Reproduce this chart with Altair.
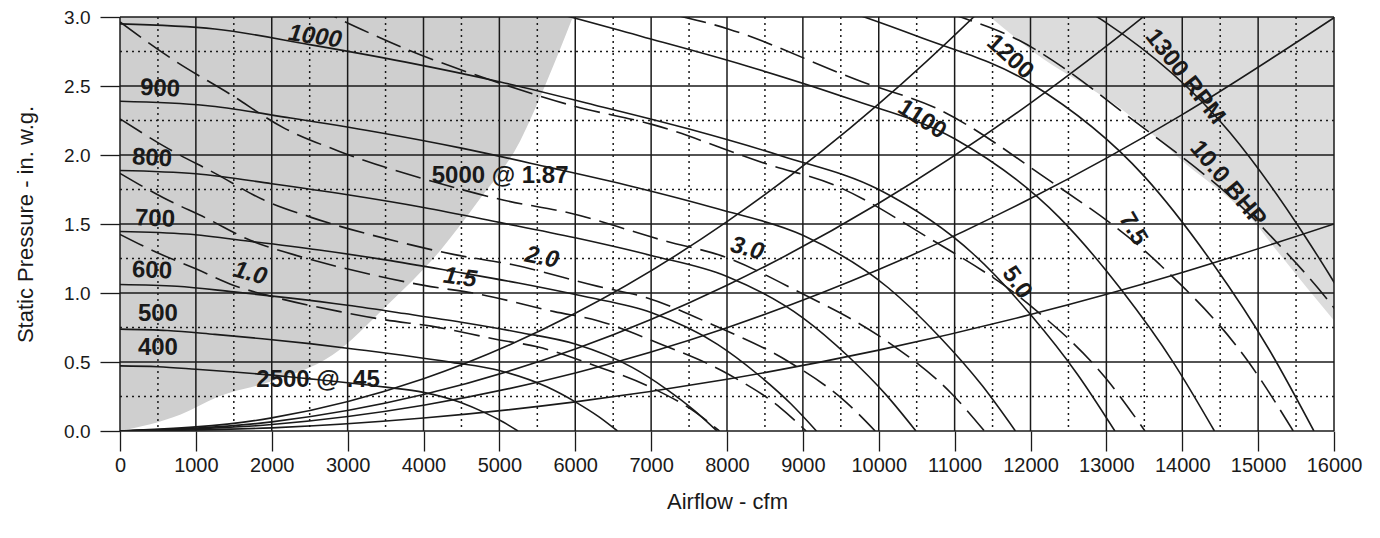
import altair as alt
import pandas as pd

# ---------------- data ----------------
# Fan speed curves (solid), x = cfm, y = in. w.g.
rpm400_x = [0, 500, 1000, 1500, 2000, 2500, 3000, 3500, 4000, 4500, 4800, 5050, 5245]
rpm400_y = [0.472, 0.466, 0.448, 0.428, 0.405, 0.378, 0.35, 0.318, 0.28, 0.205, 0.135, 0.065, 0]
rpm500_x = [0, 625, 1250, 1875, 2500, 3125, 3750, 4375, 5000, 5625, 6000, 6313, 6556]
rpm500_y = [0.738, 0.728, 0.700, 0.669, 0.633, 0.591, 0.547, 0.497, 0.438, 0.320, 0.211, 0.102, 0]
rpm600_x = [0, 750, 1500, 2250, 3000, 3750, 4500, 5250, 6000, 6750, 7200, 7575, 7868]
rpm600_y = [1.062, 1.049, 1.008, 0.963, 0.911, 0.851, 0.788, 0.716, 0.630, 0.461, 0.304, 0.146, 0]
rpm700_x = [0, 875, 1750, 2625, 3500, 4375, 5250, 6125, 7000, 7875, 8400, 8838, 9179]
rpm700_y = [1.446, 1.427, 1.372, 1.311, 1.240, 1.158, 1.072, 0.974, 0.858, 0.628, 0.413, 0.199, 0]
rpm800_x = [0, 1000, 2000, 3000, 4000, 5000, 6000, 7000, 8000, 9000, 9600, 10100, 10490]
rpm800_y = [1.888, 1.864, 1.792, 1.712, 1.620, 1.512, 1.400, 1.272, 1.120, 0.820, 0.540, 0.260, 0]
rpm900_x = [0, 1125, 2250, 3375, 4500, 5625, 6750, 7875, 9000, 10125, 10800, 11363, 11801]
rpm900_y = [2.390, 2.359, 2.268, 2.167, 2.050, 1.914, 1.772, 1.610, 1.418, 1.038, 0.683, 0.329, 0]
rpm1000_x = [0, 1250, 2500, 3750, 5000, 6250, 7500, 8750, 10000, 11250, 12000, 12625, 13112]
rpm1000_y = [2.950, 2.913, 2.800, 2.675, 2.531, 2.363, 2.188, 1.988, 1.750, 1.281, 0.844, 0.406, 0]
rpm1100_x = [0, 1375, 2750, 4125, 5500, 6875, 8250, 9625, 11000, 12375, 13200, 13888, 14424]
rpm1100_y = [3.570, 3.524, 3.388, 3.237, 3.063, 2.859, 2.647, 2.405, 2.118, 1.550, 1.021, 0.492, 0]
rpm1200_x = [0, 1500, 3000, 4500, 6000, 7500, 9000, 10500, 12000, 13500, 14400, 15150, 15735]
rpm1200_y = [4.248, 4.194, 4.032, 3.852, 3.645, 3.402, 3.150, 2.862, 2.520, 1.845, 1.215, 0.585, 0]
rpm1300_x = [0, 1625, 3250, 4875, 6500, 8125, 9750, 11375, 13000, 14625, 15600, 16413, 17046]
rpm1300_y = [4.986, 4.922, 4.732, 4.521, 4.278, 3.993, 3.697, 3.359, 2.958, 2.165, 1.426, 0.687, 0]

# Brake horsepower curves (dashed)
bhp10_x = [0, 500, 1000, 1500, 2000, 2900, 3500, 4100, 5000, 5500, 6200, 7000, 7600, 7900]
bhp10_y = [1.425, 1.29, 1.175, 1.055, 0.975, 0.865, 0.805, 0.76, 0.66, 0.61, 0.485, 0.315, 0.13, 0]
bhp15_x = [0, 572, 1145, 1717, 2289, 3320, 4006, 4693, 5724, 6296, 7097, 8013, 8700, 9043]
bhp15_y = [1.867, 1.690, 1.540, 1.382, 1.278, 1.133, 1.055, 0.996, 0.865, 0.799, 0.636, 0.413, 0.170, 0]
bhp20_x = [0, 630, 1260, 1890, 2520, 3654, 4410, 5166, 6300, 6929, 7811, 8819, 9575, 9953]
bhp20_y = [2.262, 2.048, 1.865, 1.675, 1.548, 1.373, 1.278, 1.206, 1.048, 0.968, 0.770, 0.500, 0.206, 0]
bhp30_x = [0, 721, 1442, 2163, 2884, 4182, 5048, 5913, 7211, 7932, 8942, 10095, 10961, 11393]
bhp30_y = [2.964, 2.683, 2.444, 2.195, 2.028, 1.799, 1.674, 1.581, 1.373, 1.269, 1.009, 0.655, 0.270, 0]
bhp50_x = [0, 855, 1710, 2565, 3420, 4959, 5985, 7011, 8550, 9405, 10602, 11970, 12996, 13509]
bhp50_y = [4.167, 3.772, 3.436, 3.085, 2.851, 2.529, 2.354, 2.222, 1.930, 1.784, 1.418, 0.921, 0.380, 0]
bhp75_x = [0, 979, 1957, 2936, 3915, 5676, 6851, 8025, 9787, 10766, 12136, 13702, 14876, 15463]
bhp75_y = [5.460, 4.943, 4.502, 4.042, 3.736, 3.314, 3.084, 2.912, 2.529, 2.337, 1.858, 1.207, 0.498, 0]
bhp100_x = [0, 1077, 2154, 3232, 4309, 6248, 7541, 8833, 10772, 11849, 13357, 15081, 16374, 17020]
bhp100_y = [6.614, 5.988, 5.454, 4.897, 4.526, 4.015, 3.737, 3.528, 3.063, 2.831, 2.251, 1.462, 0.603, 0]

# System resistance curves (solid, rising)
sys_x = [0, 2000, 4000, 6000, 8000, 10000, 12000, 14000, 16000]
sysA_y = [0, 0.095, 0.379, 0.853, 1.517, 2.370, 3.413, 4.645, 6.067]
sysB_y = [0, 0.066, 0.264, 0.594, 1.056, 1.650, 2.376, 3.234, 4.224]
sysC_y = [0, 0.047, 0.187, 0.421, 0.749, 1.170, 1.685, 2.293, 2.995]
sysD_y = [0, 0.023, 0.094, 0.211, 0.375, 0.586, 0.844, 1.149, 1.500]

# Shaded regions
left_x = [0, 800, 1300, 2000, 2800, 3500, 4216, 4700, 5272, 5600, 5968]
left_y = [0, 0.12, 0.25, 0.36, 0.55, 0.90, 1.305, 1.65, 2.10, 2.50, 3.0]
right_x = [11470, 12160, 12650, 13180, 13610, 14060, 14500, 14890, 15250, 15640, 16000]
right_y = [3.0, 2.70, 2.53, 2.34, 2.15, 1.93, 1.74, 1.55, 1.305, 1.04, 0.80]

# Grid and tick values
major_x = [0, 1000, 2000, 3000, 4000, 5000, 6000, 7000, 8000, 9000, 10000,
           11000, 12000, 13000, 14000, 15000, 16000]
minor_x = [500, 1500, 2500, 3500, 4500, 5500, 6500, 7500, 8500, 9500, 10500,
           11500, 12500, 13500, 14500, 15500]
major_y = [0, 0.5, 1.0, 1.5, 2.0, 2.5, 3.0]
minor_y = [0.25, 0.75, 1.25, 1.75, 2.25, 2.75]

# Annotations
lab_text = ["1000", "900", "800", "700", "600", "500", "400", "1100", "1200", "1300 RPM",
            "10.0 BHP", "7.5", "5.0", "3.0", "2.0", "1.5", "1.0", "5000 @ 1.87", "2500 @ .45"]
lab_x = [2570, 527, 422, 461, 422, 500, 500, 10570, 11730, 14036,
         14600, 13350, 11820, 8265, 5560, 4480, 1713, 5010, 2610]
lab_y = [2.856, 2.48, 1.976, 1.536, 1.161, 0.851, 0.60, 2.257, 2.71, 2.567,
         1.79, 1.465, 1.075, 1.32, 1.255, 1.11, 1.14, 1.846, 0.368]
lab_angle = [8, 3, 3, 2, 2, 0, 0, 33, 42, 52, 50, 60, 55, 15, 12, 8, 15, 0, 0]
lab_italic = [True, False, False, False, False, False, False, False, False, False,
              False, False, False, True, True, True, True, False, False]

# ---------------- build tables ----------------
def long(curves):
    rows = []
    for name, xs_, ys_ in curves:
        for i, (xv, yv) in enumerate(zip(xs_, ys_)):
            rows.append({"curve": name, "x": xv, "y": yv, "i": i})
    return pd.DataFrame(rows)

fan_df = long([("400", rpm400_x, rpm400_y), ("500", rpm500_x, rpm500_y),
               ("600", rpm600_x, rpm600_y), ("700", rpm700_x, rpm700_y),
               ("800", rpm800_x, rpm800_y), ("900", rpm900_x, rpm900_y),
               ("1000", rpm1000_x, rpm1000_y), ("1100", rpm1100_x, rpm1100_y),
               ("1200", rpm1200_x, rpm1200_y), ("1300", rpm1300_x, rpm1300_y)])
bhp_df = long([("1.0", bhp10_x, bhp10_y), ("1.5", bhp15_x, bhp15_y),
               ("2.0", bhp20_x, bhp20_y), ("3.0", bhp30_x, bhp30_y),
               ("5.0", bhp50_x, bhp50_y), ("7.5", bhp75_x, bhp75_y),
               ("10.0", bhp100_x, bhp100_y)])
sys_df = long([("A", sys_x, sysA_y), ("B", sys_x, sysB_y),
               ("C", sys_x, sysC_y), ("D", sys_x, sysD_y)])
left_df = pd.DataFrame({"x": left_x, "y": left_y})
right_df = pd.DataFrame({"x": right_x, "y": right_y})
lab_df = pd.DataFrame({"t": lab_text, "x": lab_x, "y": lab_y, "a": lab_angle, "it": lab_italic})

FONT = "Liberation Sans"
INK = "#1a1a1a"
LW = 1.6
xs = alt.Scale(domain=[0, 16000], nice=False, zero=False)
ys = alt.Scale(domain=[0, 3.0], nice=False, zero=False)

x_axis = alt.Axis(values=major_x, format="d", title="Airflow - cfm", grid=False, domain=False,
                  tickSize=20, tickColor=INK, tickWidth=1.3, labelPadding=4, labelOverlap=False,
                  labelFlush=False,
                  labelFont=FONT, labelFontSize=20, labelColor=INK,
                  titleFont=FONT, titleFontSize=22, titleFontWeight="normal", titleColor=INK,
                  titlePadding=16)
y_axis = alt.Axis(values=major_y, format=".1f", title="Static Pressure - in. w.g.", grid=False,
                  domain=False, tickSize=20, tickColor=INK, tickWidth=1.3, labelPadding=10,
                  labelOverlap=False, labelFlush=False,
                  labelFont=FONT, labelFontSize=19, labelColor=INK,
                  titleFont=FONT, titleFontSize=22, titleFontWeight="normal", titleColor=INK,
                  titlePadding=26)

X = alt.X("x:Q", scale=xs, axis=x_axis)
Y = alt.Y("y:Q", scale=ys, axis=y_axis)

left_area = alt.Chart(left_df).mark_area(color="#cfcfcf", clip=True, interpolate="monotone").encode(
    x=X, y=Y, y2=alt.Y2(datum=3.0))
right_area = alt.Chart(right_df).mark_area(color="#dcdcdc", clip=True, interpolate="monotone").encode(
    x=X, y=Y, y2=alt.Y2(datum=3.0))

minor_v = alt.Chart(pd.DataFrame({"x": minor_x})).mark_rule(
    color=INK, strokeWidth=1.5, strokeDash=[2, 4]).encode(x=X)
minor_h = alt.Chart(pd.DataFrame({"y": minor_y})).mark_rule(
    color=INK, strokeWidth=1.5, strokeDash=[2, 4]).encode(y=Y)
major_v = alt.Chart(pd.DataFrame({"x": major_x})).mark_rule(
    color=INK, strokeWidth=1.5).encode(x=X)
major_h = alt.Chart(pd.DataFrame({"y": major_y})).mark_rule(
    color=INK, strokeWidth=1.5).encode(y=Y)

fan = alt.Chart(fan_df).mark_line(color=INK, strokeWidth=LW, clip=True, interpolate="monotone").encode(
    x=X, y=Y, detail="curve:N", order="i:Q")
bhp = alt.Chart(bhp_df).mark_line(color=INK, strokeWidth=LW, clip=True, interpolate="monotone",
                                  strokeDash=[26, 9]).encode(
    x=X, y=Y, detail="curve:N", order="i:Q")
syst = alt.Chart(sys_df).mark_line(color=INK, strokeWidth=LW, clip=True, interpolate="monotone").encode(
    x=X, y=Y, detail="curve:N", order="i:Q")

txt_norm = alt.Chart(lab_df).transform_filter("!datum.it").mark_text(
    font=FONT, fontSize=24, fontWeight="bold", color=INK, align="center", baseline="middle").encode(
    x=X, y=Y, text="t:N", angle=alt.Angle("a:Q", scale=None))
txt_ital = alt.Chart(lab_df).transform_filter("datum.it").mark_text(
    font=FONT, fontSize=24, fontWeight="bold", fontStyle="italic", color=INK, align="center",
    baseline="middle").encode(
    x=X, y=Y, text="t:N", angle=alt.Angle("a:Q", scale=None))

chart = alt.layer(left_area, right_area, minor_v, minor_h, major_v, major_h,
                  syst, fan, bhp, txt_norm, txt_ital).properties(
    width=1214, height=414,
    autosize=alt.AutoSizeParams(type="none"),
    padding={"left": 112, "top": 9, "right": 38, "bottom": 99},
    background="white",
).configure_view(stroke=None)

chart.save("out.html", embed_options={"renderer": "svg", "actions": False})
